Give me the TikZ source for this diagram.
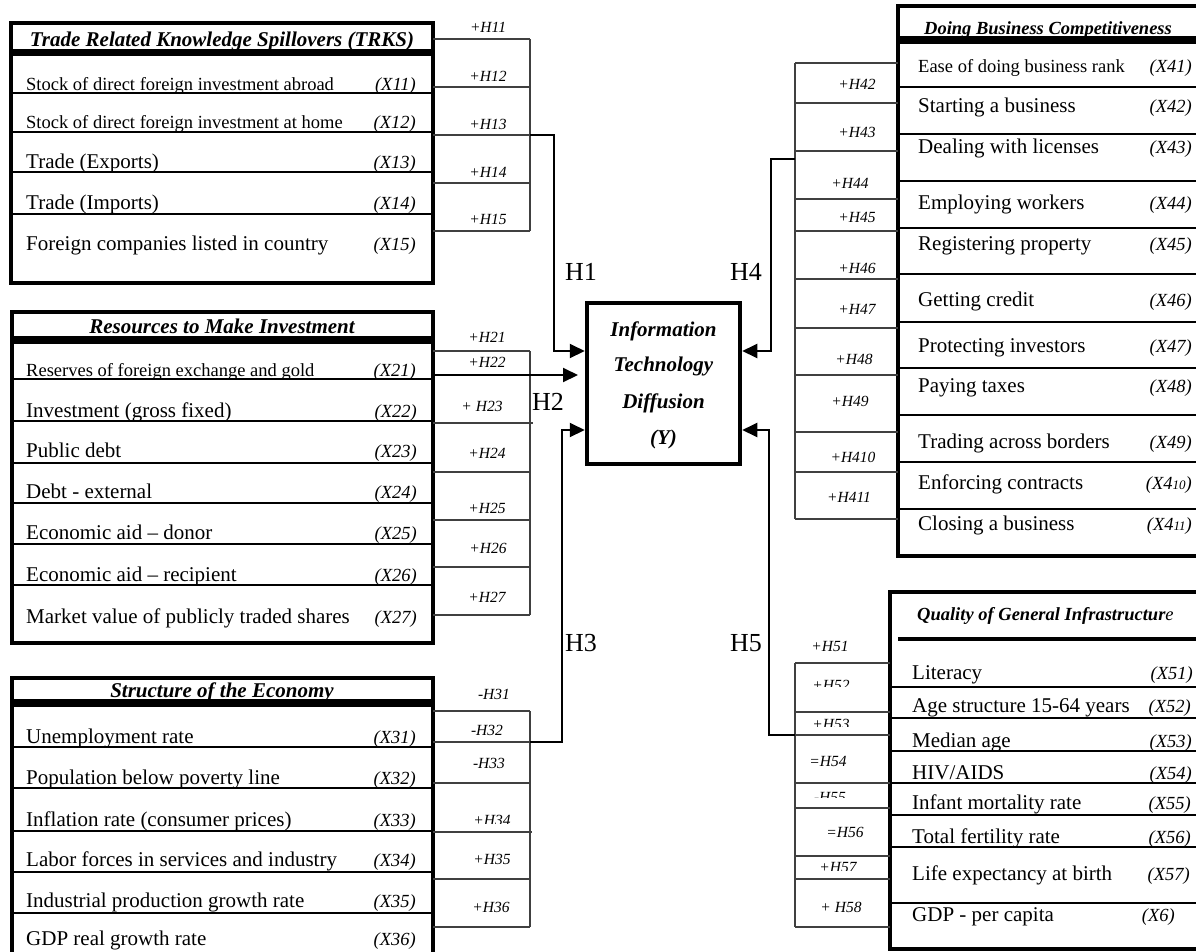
\documentclass[tikz,border=0pt]{standalone}
\usepackage{fontspec}
\setmainfont{Liberation Serif}
\usetikzlibrary{arrows.meta}
\begin{document}
\begin{tikzpicture}[x=1pt,y=-1pt,
  frame/.style={line width=4.5pt},
  sep/.style={line width=1.3pt},
  brk/.style={line width=1.3pt, draw=black!75},
  conn/.style={line width=2pt},
  arr/.style={-{Triangle[length=15pt,width=14pt]}, line width=2pt},
  rowbig/.style={anchor=base west, inner sep=0pt, font=\fontsize{21}{25}\selectfont},
  rowsm/.style={anchor=base west, inner sep=0pt, font=\fontsize{18.5}{22}\selectfont},
  xlab/.style={anchor=base east, inner sep=0pt, font=\fontsize{18.5}{22}\selectfont\itshape},
  hlab/.style={anchor=base, inner sep=0pt, font=\fontsize{15.5}{18}\selectfont\itshape},
  bigH/.style={anchor=base west, inner sep=0pt, font=\fontsize{26}{30}\selectfont},
  ttl/.style={anchor=base, inner sep=0pt, font=\fontsize{21}{25}\selectfont\bfseries\itshape},
  ttlsm/.style={anchor=base, inner sep=0pt, font=\fontsize{18.5}{22}\selectfont\bfseries\itshape},
  ctext/.style={anchor=base, inner sep=0pt, font=\fontsize{21}{25}\selectfont\bfseries\itshape},
]
\useasboundingbox (0,0) rectangle (1196,951);
\clip (0,0) rectangle (1196,951);

% ---------- Box 1: TRKS ----------
\draw[frame] (11,23) rectangle (433,51);
\draw[frame] (11,54) rectangle (433,283);
\foreach \y in {93,132,172,214} \draw[sep] (11,\y) -- (433,\y);
\node[ttl] (t1) at (222,46) {Trade Related Knowledge Spillovers (TRKS)};
\node[rowsm] (r11) at (26,90) {Stock of direct foreign investment abroad};
\node[xlab] (x11) at (416,90) {(X11)};
\node[rowsm] (r12) at (26,128) {Stock of direct foreign investment at home};
\node[xlab] (x12) at (416,128) {(X12)};
\foreach \t/\xl/\b [count=\i from 3] in {Trade (Exports)/(X13)/168, Trade (Imports)/(X14)/209, Foreign companies listed in country/(X15)/250}{
  \node[rowbig] (r1\i) at (26,\b) {\t};
  \node[xlab] (x1\i) at (416,\b) {\xl};
}
\foreach \y in {39,87,135,183,231} \draw[brk] (433,\y) -- (530,\y);
\draw[brk] (530,39) -- (530,231);
\foreach \l/\b [count=\i] in {+H11/32,+H12/81,+H13/129,+H14/177,+H15/224}
  \node[hlab] (h1\i) at (488,\b) {\l};

% ---------- Box 2: Resources ----------
\draw[frame] (12,312) rectangle (433,338);
\draw[frame] (12,342) rectangle (433,643);
\foreach \y in {379,421,463,503,544,585} \draw[sep] (12,\y) -- (433,\y);
\node[ttl] (t2) at (222,333) {Resources to Make Investment};
\node[rowsm] (r21) at (26,376) {Reserves of foreign exchange and gold};
\node[xlab] (x21) at (416,376) {(X21)};
\foreach \t/\xl/\b [count=\i from 2] in {Investment (gross fixed)/(X22)/417, Public debt/(X23)/457, Debt - external/(X24)/498, Economic aid – donor/(X25)/539, Economic aid – recipient/(X26)/581, Market value of publicly traded shares/(X27)/623}{
  \node[rowbig] (r2\i) at (26,\b) {\t};
  \node[xlab] (x2\i) at (417,\b) {\xl};
}
\foreach \y in {351,472,520,567,615} \draw[brk] (433,\y) -- (530,\y);
\draw[brk] (433,423) -- (533,423);
\draw[brk] (530,351) -- (530,615);
\node[hlab] (h21) at (487,342) {+H21};
\begin{scope}\clip (440,340) rectangle (540,366); \node[hlab] (h22) at (487,367) {+H22};\end{scope}
\node[hlab] (h23) at (482,411) {+ H23};
\node[hlab] (h24) at (487,458) {+H24};
\node[hlab] (h25) at (487,513) {+H25};
\node[hlab] (h26) at (488,553) {+H26};
\node[hlab] (h27) at (487,602) {+H27};

% ---------- Box 3: Structure ----------
\draw[frame] (12,678) rectangle (433,701);
\draw[frame] (12,705) rectangle (433,990);
\foreach \y in {747,788,831,872,913} \draw[sep] (12,\y) -- (433,\y);
\node[ttl] (t3) at (222,697) {Structure of the Economy};
\foreach \t/\xl/\b [count=\i] in {Unemployment rate/(X31)/743, Population below poverty line/(X32)/784, Inflation rate (consumer prices)/(X33)/826, Labor forces in services and industry/(X34)/866, Industrial production growth rate/(X35)/907, GDP real growth rate/(X36)/945}{
  \node[rowbig] (r3\i) at (26,\b) {\t};
  \node[xlab] (x3\i) at (416,\b) {\xl};
}
\foreach \y in {711,783,879,927} \draw[brk] (433,\y) -- (530,\y);
\draw[brk] (433,742) -- (530,742);
\draw[brk] (433,832) -- (532,832);
\draw[brk] (530,711) -- (530,927);
\node[hlab] (h31) at (494,699) {-H31};
\node[hlab] (h32) at (487,735) {-H32};
\node[hlab] (h33) at (489,768) {-H33};
\begin{scope}\clip (440,800) rectangle (545,823); \node[hlab] (h34) at (492,825) {+H34};\end{scope}
\node[hlab] (h35) at (492,864) {+H35};
\node[hlab] (h36) at (491,912) {+H36};

% ---------- Centre box ----------
\node[draw, frame, minimum width=153pt, minimum height=161pt, inner sep=0pt] (Y) at (663.5,383.5) {};
\node[ctext] (y1) at (663.5,336) {Information};
\node[ctext] (y2) at (663.5,371) {Technology};
\node[ctext] (y3) at (663.5,408) {Diffusion};
\node[ctext] (y4) at (663.5,444) {(Y)};

% ---------- Box 4: Doing Business ----------
\draw[frame] (898,6) rectangle (1215,38);
\draw[frame] (898,42) rectangle (1215,556);
\foreach \y in {87,134,181,228,274,322,368,415,462,509} \draw[sep] (898,\y) -- (1215,\y);
\node[ttlsm] (t4) at (1048,34) {Doing Business Competitiveness};
\node[rowsm] (r41) at (918,72) {Ease of doing business rank};
\node[xlab] (x41) at (1192,72) {(X41)};
\foreach \t/\xl/\b [count=\i from 2] in {Starting a business/(X42)/112, Dealing with licenses/(X43)/153, Employing workers/(X44)/209, Registering property/(X45)/250, Getting credit/(X46)/306, Protecting investors/(X47)/352, Paying taxes/(X48)/392, Trading across borders/(X49)/448}{
  \node[rowbig] (r4\i) at (918,\b) {\t};
  \node[xlab] (x4\i) at (1192,\b) {\xl};
}
\node[rowbig] (r410) at (918,489) {Enforcing contracts};
\node[xlab] (x410) at (1192,489) {(X4{\fontsize{13}{15}\selectfont 10})};
\node[rowbig] (r411) at (918,530) {Closing a business};
\node[xlab] (x411) at (1192,530) {(X4{\fontsize{13}{15}\selectfont 11})};
\foreach \y in {63,103,151,199,231,279,328,375,432,472,519} \draw[brk] (795,\y) -- (898,\y);
\draw[brk] (795,63) -- (795,519);
\foreach \l/\x/\b [count=\i] in {+H42/857/89, +H43/857/137, +H44/850/188, +H45/857/222, +H46/857/273, +H47/857/314, +H48/854/364, +H49/850/406, +H410/853/462, +H411/849/502}
  \node[hlab] (h4\i) at (\x,\b) {\l};

% ---------- Box 5: Infrastructure ----------
\draw[frame] (890,592) rectangle (1215,949);
\draw[frame] (898,639) -- (1215,639);
\foreach \y in {687,718,751,783,815,847,903} \draw[sep] (890,\y) -- (1215,\y);
\node[anchor=base west, inner sep=0pt, font=\fontsize{18.5}{22}\selectfont\itshape] (t5) at (917,620) {\textbf{Quality of General Infrastructur}e};
\node[rowbig] (r51) at (912,679) {Literacy};
\node[xlab] (x51) at (1193,679) {(X51)};
\node[rowbig] (r52) at (912,712) {Age structure 15-64 years};
\node[xlab] (x52) at (1191,712) {(X52)};
\node[rowbig] (r53) at (912,747) {Median age};
\node[xlab] (x53) at (1192,747) {(X53)};
\node[rowbig] (r54) at (912,779) {HIV/AIDS};
\node[xlab] (x54) at (1192,779) {(X54)};
\node[rowbig] (r55) at (912,809) {Infant mortality rate};
\node[xlab] (x55) at (1191,809) {(X55)};
\node[rowbig] (r56) at (912,843) {Total fertility rate};
\node[xlab] (x56) at (1191,843) {(X56)};
\node[rowbig] (r57) at (912,880) {Life expectancy at birth};
\node[xlab] (x57) at (1190,880) {(X57)};
\node[rowbig] (r58) at (912,921) {GDP - per capita};
\node[xlab] (x58) at (1175,921) {(X6)};
\foreach \y in {663,712,783,808,856,879,927} \draw[brk] (795,\y) -- (890,\y);
\draw[brk] (795,735) -- (890,735);
\draw[brk] (795,663) -- (795,927);
\node[hlab] (h51) at (830,651) {+H51};
\begin{scope}\clip (790,670) rectangle (880,686); \node[hlab] (h52) at (831,690) {+H52};\end{scope}
\begin{scope}\clip (790,712) rectangle (880,726); \node[hlab] (h53) at (831,729) {+H53};\end{scope}
\node[hlab] (h54) at (828,766) {=H54};
\begin{scope}\clip (790,784) rectangle (880,797); \node[hlab] (h55) at (830,802) {-H55};\end{scope}
\node[hlab] (h56) at (845,837) {=H56};
\begin{scope}\clip (790,857) rectangle (880,870); \node[hlab] (h57) at (838,872) {+H57};\end{scope}
\node[hlab] (h58) at (841,912) {+ H58};

% ---------- Connectors H1..H5 ----------
\coordinate (c1a) at (530,135);
\coordinate (c1b) at (554,135);
\coordinate (c1c) at (554,351);
\draw[arr] (c1a) -- (c1b) -- (c1c) -- (Y.west |- c1c);
\coordinate (c2a) at (433,375);
\coordinate (c2b) at (578,375);
\draw[arr] (c2a) -- (c2b);
\coordinate (c3a) at (530,742);
\coordinate (c3b) at (562,742);
\coordinate (c3c) at (562,430);
\draw[arr] (c3a) -- (c3b) -- (c3c) -- (Y.west |- c3c);
\coordinate (c4a) at (795,159);
\coordinate (c4b) at (771,159);
\coordinate (c4c) at (771,351);
\draw[arr] (c4a) -- (c4b) -- (c4c) -- (Y.east |- c4c);
\coordinate (c5a) at (795,735);
\coordinate (c5b) at (769,735);
\coordinate (c5c) at (769,430);
\draw[arr] (c5a) -- (c5b) -- (c5c) -- (Y.east |- c5c);

\node[bigH] (H1) at (565,280) {H1};
\node[bigH] (H2) at (532,410) {H2};
\node[bigH] (H3) at (565,651) {H3};
\node[bigH] (H4) at (730,280) {H4};
\node[bigH] (H5) at (730,651) {H5};
\end{tikzpicture}
\end{document}
